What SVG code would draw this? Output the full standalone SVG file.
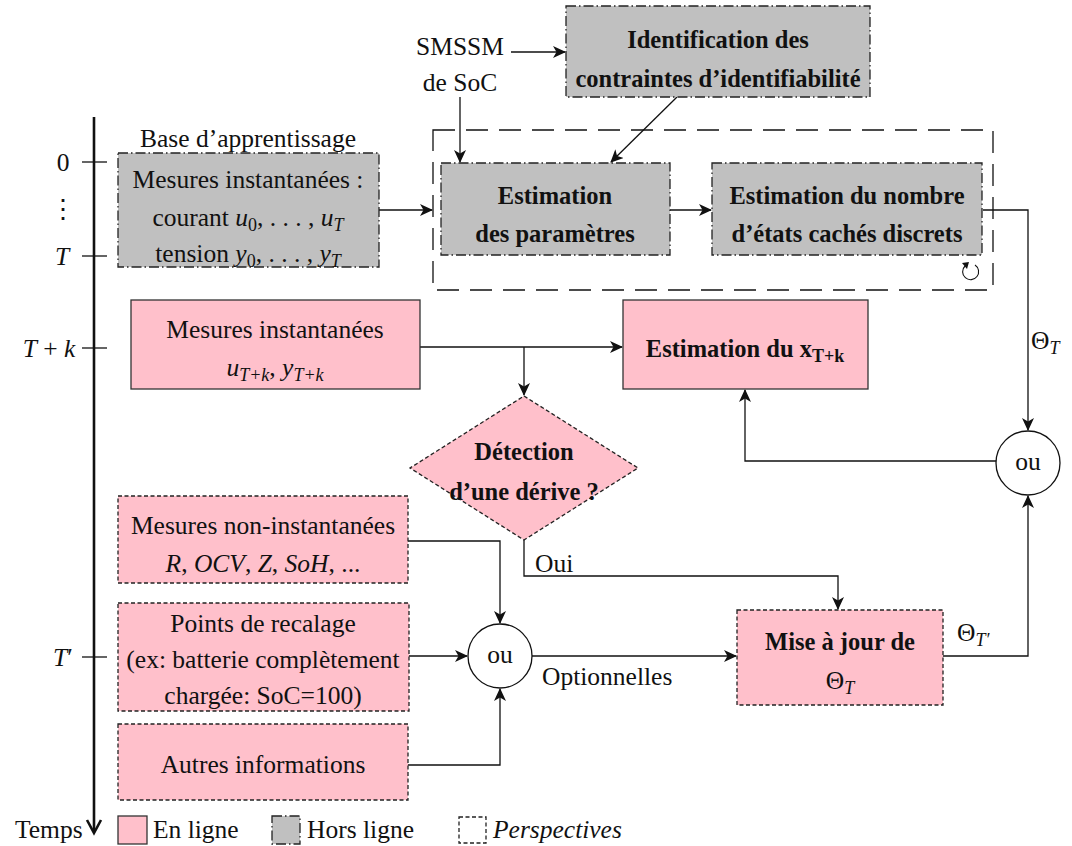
<svg xmlns="http://www.w3.org/2000/svg" width="1072" height="846" viewBox="0 0 1072 846">
<style>
text{font-family:"Liberation Serif","DejaVu Serif",serif;font-size:25.5px;fill:#111}
.c{text-anchor:middle}
.b{font-weight:bold;font-size:24.5px}
.i{font-style:italic}
.s{font-size:18px}
.off{fill:#c0c0c0;stroke:#222;stroke-width:1.3;stroke-dasharray:10,3,1.5,3}
.on{fill:#ffc0cb;stroke:#333;stroke-width:1.3}
.per{fill:#ffc0cb;stroke:#222;stroke-width:1.3;stroke-dasharray:4,2.5}
.ar{fill:none;stroke:#111;stroke-width:1.3;marker-end:url(#ah)}
</style>
<defs>
<marker id="ah" markerWidth="14" markerHeight="12" refX="12" refY="6" orient="auto" markerUnits="userSpaceOnUse">
<path d="M0,0 L13,6 L0,12 L3.5,6 z" fill="#111"/>
</marker>
</defs>

<g id="axis">
<line x1="94" y1="117" x2="94" y2="832" stroke="#111" stroke-width="2.6"/>
<path d="M87,820 L94,833 L101,820" fill="none" stroke="#111" stroke-width="2.6"/>
<line x1="82" y1="162" x2="107" y2="162" stroke="#111" stroke-width="1.3"/>
<line x1="82" y1="256" x2="107" y2="256" stroke="#111" stroke-width="1.3"/>
<line x1="82" y1="348" x2="107" y2="348" stroke="#111" stroke-width="1.3"/>
<line x1="82" y1="657" x2="107" y2="657" stroke="#111" stroke-width="1.3"/>
<text x="63" y="171" class="c">0</text>
<text x="63" y="218" class="c">⋮</text>
<text x="62" y="265" class="c i">T</text>
<text x="49" y="357" class="c"><tspan class="i">T</tspan> + <tspan class="i">k</tspan></text>
<text x="63" y="666" class="c"><tspan class="i">T</tspan>′</text>
</g>

<g id="connectors">
<line class="ar" x1="511" y1="52" x2="565" y2="52"/>
<line class="ar" x1="460" y1="97" x2="460" y2="162"/>
<line class="ar" x1="677" y1="97" x2="611" y2="162"/>
<line class="ar" x1="379" y1="210" x2="432" y2="210"/>
<line class="ar" x1="670" y1="210" x2="711" y2="210"/>
<polyline class="ar" points="983,210 1028,210 1028,430"/>
<line class="ar" x1="420" y1="347" x2="622" y2="347"/>
<line class="ar" x1="524" y1="347" x2="524" y2="395"/>
<polyline class="ar" points="996,461 745,461 745,390"/>
<polyline class="ar" points="524,540 524,576 838,576 838,609"/>
<polyline class="ar" points="408,541 500,541 500,623"/>
<line class="ar" x1="409" y1="656" x2="467" y2="656"/>
<polyline class="ar" points="408,765 500,765 500,689"/>
<line class="ar" x1="532" y1="656" x2="736" y2="656"/>
<polyline class="ar" points="943,656 1028,656 1028,496"/>
<text x="535" y="572">Oui</text>
<text x="542" y="685">Optionnelles</text>
<text x="1031" y="349">Θ<tspan class="i s" dy="5">T</tspan></text>
<text x="957" y="641">Θ<tspan class="i s" dy="5">T′</tspan></text>
</g>

<g id="smssm">
<text x="460" y="55" class="c">SMSSM</text>
<text x="460" y="91" class="c">de SoC</text>
</g>

<g id="identification">
<rect class="off" x="566" y="6" width="304" height="91"/>
<text x="718" y="48" class="c b">Identification des</text>
<text x="718" y="87" class="c b">contraintes d’identifiabilité</text>
</g>

<g id="boucle">
<rect x="433" y="130" width="560" height="160" fill="none" stroke="#111" stroke-width="1.3" stroke-dasharray="22,11"/>
<path d="M965,266 A8,8 0 1 0 975,265" fill="none" stroke="#111" stroke-width="1.1"/>
<path d="M962,263 L967,269 L969,262 z" fill="#111"/>
</g>

<g id="base">
<text x="248" y="147" class="c">Base d’apprentissage</text>
<rect class="off" x="118" y="153" width="261" height="114"/>
<text x="248" y="188" class="c">Mesures instantanées :</text>
<text x="248" y="226" class="c">courant <tspan class="i">u</tspan><tspan class="s" dy="5">0</tspan><tspan dy="-5">, . . . , </tspan><tspan class="i">u</tspan><tspan class="i s" dy="5">T</tspan></text>
<text x="248" y="262" class="c">tension <tspan class="i">y</tspan><tspan class="s" dy="5">0</tspan><tspan dy="-5">, . . . , </tspan><tspan class="i">y</tspan><tspan class="i s" dy="5">T</tspan></text>
</g>

<g id="est-param">
<rect class="off" x="441" y="163" width="229" height="92"/>
<text x="555" y="204" class="c b">Estimation</text>
<text x="555" y="242" class="c b">des paramètres</text>
</g>

<g id="est-nombre">
<rect class="off" x="712" y="163" width="270" height="92"/>
<text x="847" y="204" class="c b">Estimation du nombre</text>
<text x="847" y="242" class="c b">d’états cachés discrets</text>
</g>

<g id="mesures-tk">
<rect class="on" x="131" y="300" width="289" height="89"/>
<text x="275" y="338" class="c">Mesures instantanées</text>
<text x="275" y="376" class="c"><tspan class="i">u</tspan><tspan class="i s" dy="5">T+k</tspan><tspan dy="-5">, </tspan><tspan class="i">y</tspan><tspan class="i s" dy="5">T+k</tspan></text>
</g>

<g id="est-x">
<rect class="on" x="623" y="300" width="245" height="89"/>
<text x="745" y="357" class="c b">Estimation du x<tspan class="s" dy="5">T+k</tspan></text>
</g>

<g id="detection">
<polygon class="per" points="524,396 638,468 524,540 410,468"/>
<text x="524" y="460" class="c b">Détection</text>
<text x="524" y="500" class="c b">d’une dérive ?</text>
</g>

<g id="ou-droite">
<circle cx="1028" cy="463" r="32" fill="#fff" stroke="#111" stroke-width="1.3"/>
<text x="1028" y="470" class="c">ou</text>
</g>

<g id="non-inst">
<rect class="per" x="118" y="496" width="290" height="87"/>
<text x="263" y="534" class="c">Mesures non-instantanées</text>
<text x="263" y="572" class="c"><tspan class="i">R</tspan>, <tspan class="i">OCV</tspan>, <tspan class="i">Z</tspan>, <tspan class="i">SoH</tspan>, ...</text>
</g>

<g id="recalage">
<rect class="per" x="118" y="603" width="291" height="108"/>
<text x="263" y="632" class="c">Points de recalage</text>
<text x="263" y="668" class="c">(ex: batterie complètement</text>
<text x="263" y="704" class="c">chargée: SoC=100)</text>
</g>

<g id="autres">
<rect class="per" x="118" y="724" width="290" height="76"/>
<text x="263" y="773" class="c">Autres informations</text>
</g>

<g id="ou-gauche">
<circle cx="500" cy="656" r="32" fill="#fff" stroke="#111" stroke-width="1.3"/>
<text x="500" y="663" class="c">ou</text>
</g>

<g id="maj">
<rect class="per" x="737" y="610" width="206" height="95"/>
<text x="840" y="650" class="c b">Mise à jour de</text>
<text x="840" y="689" class="c">Θ<tspan class="i s" dy="5">T</tspan></text>
</g>

<g id="legende">
<text x="15" y="838">Temps</text>
<rect class="on" x="118" y="816" width="29" height="28"/>
<text x="153" y="838">En ligne</text>
<rect class="off" x="272" y="816" width="28" height="28"/>
<text x="307" y="838">Hors ligne</text>
<rect x="459" y="817" width="27" height="26" fill="#fff" stroke="#222" stroke-width="1.3" stroke-dasharray="4,2.5"/>
<text x="493" y="838" class="i">Perspectives</text>
</g>
</svg>
